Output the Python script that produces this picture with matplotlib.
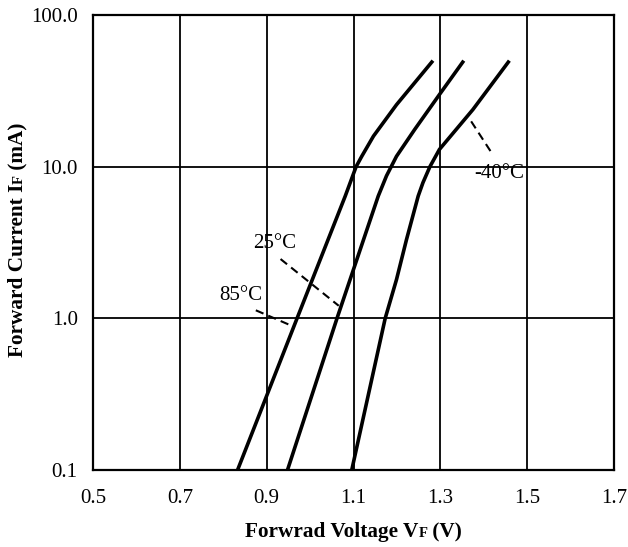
import numpy as np
import matplotlib
matplotlib.use("Agg")
import matplotlib.pyplot as plt

plt.rcParams["font.family"] = ["Liberation Serif", "DejaVu Serif"]

# Kurve verileri (VF [V], IF [mA])
v_85 = [0.833, 0.970, 1.081, 1.106, 1.119, 1.146, 1.199, 1.283]
i_85 = [0.1, 1.0, 6.4, 10.0, 11.7, 15.9, 25.6, 50.0]

v_25 = [0.948, 1.062, 1.157, 1.176, 1.199, 1.241, 1.298, 1.354]
i_25 = [0.1, 1.0, 6.4, 8.7, 11.7, 17.6, 29.9, 50.0]

v_m40 = [1.096, 1.173, 1.199, 1.222, 1.249, 1.260, 1.276, 1.298, 1.375, 1.459]
i_m40 = [0.1, 1.0, 1.8, 3.3, 6.4, 7.85, 10.0, 13.0, 23.8, 50.0]

x_ticks = [0.5, 0.7, 0.9, 1.1, 1.3, 1.5, 1.7]
y_ticks = [0.1, 1.0, 10.0, 100.0]

# etiketler: metin, metin merkezi, kesikli cizgi (baslangic, bitis)
etiketler = [
    ("85°C", (0.841, 1.42), (0.875, 1.13), (0.951, 0.91)),
    ("25°C", (0.919, 3.12), (0.932, 2.46), (1.066, 1.21)),
    ("-40°C", (1.436, 9.0), (1.371, 19.9), (1.420, 12.1)),
]

fig = plt.figure(figsize=(6.28, 5.47), dpi=100)
ax = fig.add_axes([93 / 628, 77 / 547, 521 / 628, 455 / 547])

ax.set_yscale("log")
ax.set_xlim(0.5, 1.7)
ax.set_ylim(0.1, 100)
ax.set_xticks(x_ticks)
ax.set_xticklabels([f"{t:.1f}" for t in x_ticks])
ax.set_yticks(y_ticks)
ax.set_yticklabels([f"{t:.1f}" for t in y_ticks])
ax.minorticks_off()
ax.tick_params(length=0, labelsize=15)
ax.tick_params(axis="x", pad=14)
ax.tick_params(axis="y", pad=11)
ax.grid(True, color="black", linewidth=1.3)
for s in ax.spines.values():
    s.set_linewidth(1.6)

for v, i in [(v_85, i_85), (v_25, i_25), (v_m40, i_m40)]:
    ax.plot(v, i, color="black", linewidth=2.6, solid_capstyle="butt")

for txt, pos, p0, p1 in etiketler:
    ax.plot([p0[0], p1[0]], [p0[1], p1[1]], color="black", linewidth=1.5,
            linestyle=(0, (4, 2.5)))
    ax.text(pos[0], pos[1], txt, fontsize=15, ha="center", va="center")

# Alt indisli eksen basliklari (parca parca)
renderer = fig.canvas.get_renderer()


def parcali_yazi(parcalar, x, y, rotation):
    # once olc, sonra ortala
    olcu = []
    for metin, boyut in parcalar:
        t = fig.text(0, 0, metin, fontsize=boyut, fontweight="bold")
        bb = t.get_window_extent(renderer)
        olcu.append(bb.width)
        t.remove()
    toplam = sum(olcu)
    pos = (x if rotation == 0 else y) - toplam / 2
    for (metin, boyut), w in zip(parcalar, olcu):
        if rotation == 0:
            fig.text(pos / 628, y / 547, metin, fontsize=boyut, fontweight="bold",
                     ha="left", va="baseline")
        else:
            fig.text(x / 628, pos / 547, metin, fontsize=boyut, fontweight="bold",
                     ha="left", va="baseline", rotation=90, rotation_mode="anchor")
        pos += w


parcali_yazi([("Forwrad Voltage V", 15.3), ("F", 10.5), (" (V)", 15.3)], 353.5, 547 - 537, 0)
parcali_yazi([("Forward Current I", 15.3), ("F", 10.5), (" (mA)", 15.3)], 23, 547 - 240, 90)

fig.savefig("out.png", dpi=100)
